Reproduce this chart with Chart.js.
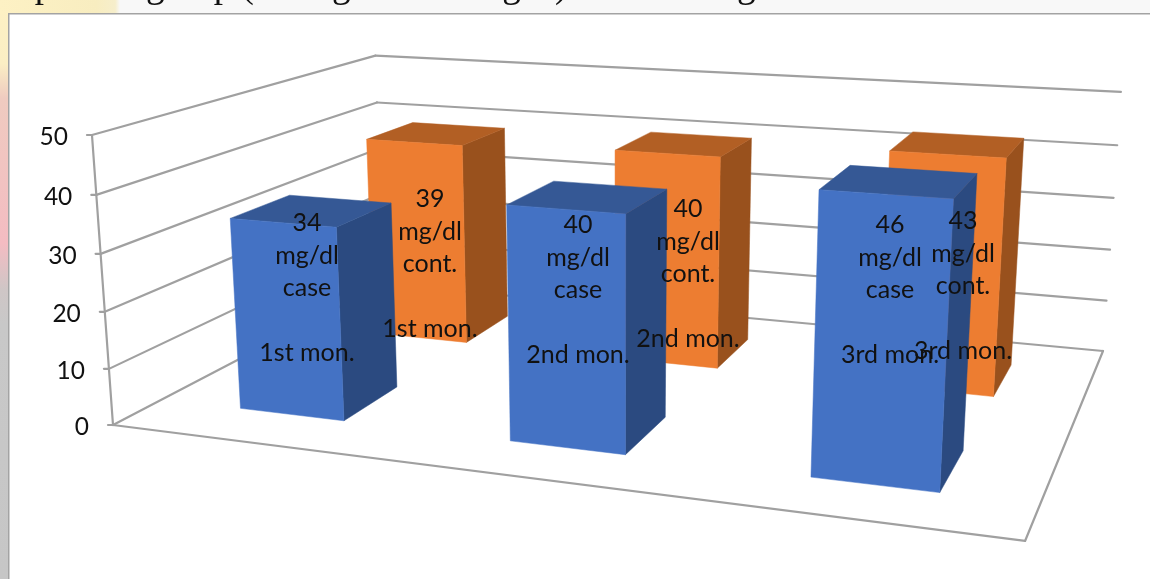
<!DOCTYPE html>
<html>
<head>
<meta charset="utf-8">
<title>mg/dl by month</title>
<script src="https://cdn.jsdelivr.net/npm/chart.js@4"></script>
<style>
  html, body { margin: 0; padding: 0; background: #fff; }
  canvas { display: block; }
</style>
</head>
<body>
<canvas id="chart1" width="1150" height="579"></canvas>
<script>
const months = ["1st mon.", "2nd mon.", "3rd mon."];
const caseValues = [34, 40, 46];
const contValues = [39, 40, 43];
const unit = "mg/dl";
const yTicks = [0, 10, 20, 30, 40, 50];

// text centres of the value labels, first line
const caseLabelAt = [[307, 223], [578, 225], [890, 225]];
const contLabelAt = [[430, 199], [688, 209], [963, 221]];

// heading running off the top of the slide
const headingParts = [["Sample", -31], ["group (during", 146], ["testing", 422], [")", 555], ["during", 659]];

// perspective camera: floor/value box (X, Y, Z all 0..1) to canvas pixels
const cam = {
  o: [113, 425],
  x: [750.3, 30.6],
  y: [-24.7, -295.4],
  z: [378.7, -60.4],
  w: [-0.1578, -0.04, 0.2838],
};
const BOX_SHIFT = 0.002;

function project(X, Y, Z) {
  const d = 1 + cam.w[0] * X + cam.w[1] * Y + cam.w[2] * Z;
  return [
    (cam.o[0] + cam.x[0] * X + cam.y[0] * Y + cam.z[0] * Z) / d,
    (cam.o[1] + cam.x[1] * X + cam.y[1] * Y + cam.z[1] * Z) / d,
  ];
}

function poly(ctx, pts, fill) {
  ctx.beginPath();
  pts.forEach((p, i) => (i ? ctx.lineTo(p[0], p[1]) : ctx.moveTo(p[0], p[1])));
  ctx.closePath();
  ctx.fillStyle = fill;
  ctx.fill();
  ctx.strokeStyle = fill;
  ctx.lineWidth = 0.5;
  ctx.stroke();
}

function seg(ctx, a, b) {
  ctx.beginPath();
  ctx.moveTo(a[0], a[1]);
  ctx.lineTo(b[0], b[1]);
  ctx.stroke();
}

function fracY(chart, v) {
  const y = chart.scales.y;
  return (y.bottom - y.getPixelForValue(v)) / (y.bottom - y.top);
}

const slideBackdrop = {
  id: "slideBackdrop",
  beforeDraw(chart) {
    const ctx = chart.ctx;
    ctx.save();
    // slide theme strip down the left side
    const side = ctx.createLinearGradient(0, 0, 0, 579);
    side.addColorStop(0, "#fdf1c4");
    side.addColorStop(0.11, "#fbeec4");
    side.addColorStop(0.17, "#efcbc0");
    side.addColorStop(0.42, "#f4bcc2");
    side.addColorStop(0.5, "#cfc6c6");
    side.addColorStop(0.56, "#c8c8c8");
    side.addColorStop(1, "#c6c6c6");
    ctx.fillStyle = side;
    ctx.fillRect(0, 0, 9, 579);

    const band = ctx.createLinearGradient(0, 0, 120, 0);
    band.addColorStop(0, "#fdf1c4");
    band.addColorStop(0.8, "#f8edc0");
    band.addColorStop(0.96, "#f6eecb");
    band.addColorStop(1, "#f8f8f8");
    ctx.fillStyle = band;
    ctx.fillRect(0, 0, 120, 14);
    ctx.fillStyle = "#f8f8f8";
    ctx.fillRect(120, 0, 1030, 14);

    ctx.save();
    ctx.beginPath();
    ctx.rect(0, 0, 1150, 14);
    ctx.clip();
    ctx.fillStyle = "#111";
    ctx.font = '37px "Liberation Serif"';
    ctx.textAlign = "left";
    ctx.textBaseline = "alphabetic";
    headingParts.forEach((h) => ctx.fillText(h[0], h[1], -3));
    ctx.restore();

    // chart frame
    ctx.fillStyle = "#fff";
    ctx.fillRect(9, 14, 1141, 565);
    ctx.fillStyle = "#a3a3a3";
    ctx.fillRect(8, 13, 1142, 1.5);
    ctx.fillRect(8, 13, 1.5, 566);
    ctx.restore();
  },
};

const walls = {
  id: "walls",
  beforeDatasetsDraw(chart) {
    const ctx = chart.ctx;
    ctx.save();
    ctx.strokeStyle = "#a0a0a0";
    ctx.lineWidth = 2.2;
    ctx.lineCap = "round";
    chart.scales.y.ticks.forEach((t) => {
      const Y = fracY(chart, t.value);
      const front = project(0, Y, 0);
      const back = project(0, Y, 1);
      seg(ctx, [front[0] - 5, front[1]], front);
      seg(ctx, front, back);
      seg(ctx, back, project(1, Y, 1));
    });
    seg(ctx, project(0, 0, 0), project(0, 1, 0));
    seg(ctx, project(0, 0, 0), project(1, 0, 0));
    seg(ctx, project(1, 0, 0), project(1, 0, 1));
    ctx.restore();
  },
};

// replaces the flat bars with boxes standing on the floor
const boxes = {
  id: "boxes",
  beforeDatasetDraw(chart, args) {
    const ctx = chart.ctx;
    const ds = chart.data.datasets[args.index];
    const xs = chart.scales.x;
    ds.data.forEach((v, i) => {
      const cx = (xs.getPixelForValue(i) - xs.left) / (xs.right - xs.left) + BOX_SHIFT;
      const x0 = cx - ds.boxWidth / 2;
      const x1 = cx + ds.boxWidth / 2;
      const z0 = ds.depthAt - ds.boxDepth / 2;
      const z1 = ds.depthAt + ds.boxDepth / 2;
      const h = fracY(chart, v);
      poly(ctx, [project(x1, 0, z0), project(x1, 0, z1), project(x1, h, z1), project(x1, h, z0)], ds.sideColor);
      poly(ctx, [project(x0, h, z0), project(x1, h, z0), project(x1, h, z1), project(x0, h, z1)], ds.topColor);
      poly(ctx, [project(x0, 0, z0), project(x1, 0, z0), project(x1, h, z0), project(x0, h, z0)], ds.backgroundColor);
    });
    return false;
  },
};

const texts = {
  id: "texts",
  afterDatasetsDraw(chart) {
    const ctx = chart.ctx;
    ctx.save();
    ctx.fillStyle = "#111";
    ctx.font = '24.5px Lato';
    ctx.textAlign = "right";
    ctx.textBaseline = "middle";
    chart.scales.y.ticks.forEach((t) => {
      const p = project(0, fracY(chart, t.value), 0);
      ctx.fillText(String(t.value), p[0] - 24, p[1] + 2);
    });
    ctx.font = '25px Lato';
    ctx.textAlign = "center";
    [...chart.data.datasets].reverse().forEach((ds) => {
      ds.data.forEach((v, i) => {
        const at = ds.labelAt[i];
        [String(v), unit, ds.label, "", months[i]].forEach((line, n) => {
          ctx.fillText(line, at[0], at[1] + n * 32.6);
        });
      });
    });
    ctx.restore();
  },
};

new Chart(document.getElementById("chart1"), {
  type: "bar",
  data: {
    labels: months,
    datasets: [
      {
        label: "case",
        data: caseValues,
        backgroundColor: "#4472c4",
        sideColor: "#2b4a80",
        topColor: "#355895",
        depthAt: 0.25,
        boxWidth: 0.132,
        boxDepth: 0.2,
        labelAt: caseLabelAt,
      },
      {
        label: "cont.",
        data: contValues,
        backgroundColor: "#ed7d31",
        sideColor: "#99511d",
        topColor: "#b25f24",
        depthAt: 0.75,
        boxWidth: 0.132,
        boxDepth: 0.2,
        labelAt: contLabelAt,
      },
    ],
  },
  options: {
    responsive: false,
    animation: false,
    layout: { padding: { left: 113, right: 125, top: 135, bottom: 154 } },
    plugins: { legend: { display: false }, tooltip: { enabled: false } },
    scales: {
      x: { display: false },
      y: {
        display: false,
        min: yTicks[0],
        max: yTicks[yTicks.length - 1],
        afterBuildTicks: (scale) => {
          scale.ticks = yTicks.map((value) => ({ value }));
        },
      },
    },
  },
  plugins: [slideBackdrop, walls, boxes, texts],
});
</script>
</body>
</html>
